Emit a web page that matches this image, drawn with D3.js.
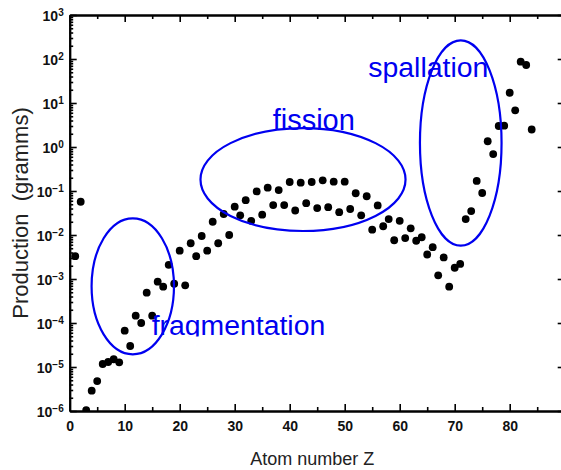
<!DOCTYPE html>
<html>
<head>
<meta charset="utf-8">
<script src="https://cdnjs.cloudflare.com/ajax/libs/d3/7.8.5/d3.min.js"></script>
<style>
  body { margin: 0; background: #fff; }
  svg { display: block; }
  .axis path, .axis line { stroke: #000; }
  .axis path { stroke-width: 2; }
  .axis line { stroke-width: 1.6; }
  .ticklabel { font-family: "Liberation Sans Narrow", "Arial Narrow", "Liberation Sans", Arial, sans-serif; font-size: 14px; font-weight: bold; fill: #111; }
</style>
</head>
<body>
<div id="chart"></div>
<script>
// atomic number Z and production (grams)
var atomNumbers = [1, 2, 3, 4, 5, 6, 7, 8, 9, 10, 11, 12, 13, 14, 15, 16, 17, 18, 19, 20,
    21, 22, 23, 24, 25, 26, 27, 28, 29, 30, 31, 32, 33, 34, 35, 36, 37, 38, 39, 40,
    41, 42, 43, 44, 45, 46, 47, 48, 49, 50, 51, 52, 53, 54, 55, 56, 57, 58, 59, 60,
    61, 62, 63, 64, 65, 66, 67, 68, 69, 70, 71, 72, 73, 74, 75, 76, 77, 78, 79, 80,
    81, 82, 83, 84];

var production = [3.3e-3, 5.7e-2, 1.05e-6, 2.9e-6, 4.8e-6, 1.17e-5, 1.3e-5, 1.5e-5, 1.28e-5, 6.7e-5,
    3.0e-5, 1.47e-4, 1.0e-4, 4.9e-4, 1.47e-4, 8.7e-4, 6.7e-4, 2.1e-3, 7.8e-4, 4.4e-3,
    7.2e-4, 6.5e-3, 3.3e-3, 9.5e-3, 4.4e-3, 2.0e-2, 6.5e-3, 3.0e-2, 1.0e-2, 4.4e-2,
    2.8e-2, 6.2e-2, 2.1e-2, 9.8e-2, 2.9e-2, 0.119, 4.8e-2, 0.105, 4.8e-2, 0.160,
    3.6e-2, 0.155, 5.3e-2, 0.160, 4.1e-2, 0.175, 4.3e-2, 0.163, 3.3e-2, 0.163,
    3.9e-2, 8.9e-2, 2.8e-2, 7.6e-2, 1.32e-2, 4.7e-2, 1.58e-2, 2.3e-2, 7.6e-3, 2.1e-2,
    8.5e-3, 1.42e-2, 7.4e-3, 8.9e-3, 3.6e-3, 5.3e-3, 1.21e-3, 3.1e-3, 6.7e-4, 1.8e-3,
    2.2e-3, 2.3e-2, 3.5e-2, 0.169, 9.0e-2, 1.35, 0.69, 3.0, 3.05, 17.1,
    6.8, 87, 73, 2.5];

var xTicks = [0, 10, 20, 30, 40, 50, 60, 70, 80];
var xMinorTicks = [5, 15, 25, 35, 45, 55, 65, 75, 85];
var yExponents = [-6, -5, -4, -3, -2, -1, 0, 1, 2, 3];

// process regions: centre (Z, log10 grams) and half-widths (Z, decades)
var regionNames = ["fragmentation", "fission", "spallation"];
var regionCentres = [[11.47, -3.166], [42.42, -0.739], [71.1, 0.091]];
var regionRadii = [[7.49, 1.545], [18.64, 1.17], [7.42, 2.334]];
var regionLabelAt = [[14.9, -4.284], [36.9, 0.386], [54.3, 1.598]];

var data = atomNumbers.map(function (z, i) { return [z, production[i]]; });

let width = 561, height = 470;

let x = d3.scaleLinear()
    .domain([0, 90])
    .range([69.7, 564.7]);

let y = d3.scaleLog()
    .domain([1e-6, 1e3])
    .range([411, 15]);

let chart = d3.select('#chart')
    .append('svg')
    .attr('width', width)
    .attr('height', height);

chart.append('defs').append('clipPath')
    .attr('id', 'plotclip')
    .append('rect')
    .attr('x', x(0)).attr('y', y(1e3))
    .attr('width', x(90) - x(0)).attr('height', y(1e-6) - y(1e3));

// minor log ticks (2..9 in each decade)
var yMinor = [];
yExponents.slice(0, -1).forEach(function (e) {
    for (var m = 2; m <= 9; m++) yMinor.push(m * Math.pow(10, e));
});
var yMajor = yExponents.map(function (e) { return Math.pow(10, e); });

// bottom axis
chart.append('g')
    .attr('class', 'axis')
    .attr('transform', 'translate(0,' + y(1e-6) + ')')
    .call(d3.axisBottom(x).tickValues(xMinorTicks).tickSize(-4).tickSizeOuter(0).tickFormat(''));

let xAxis = chart.append('g')
    .attr('class', 'axis')
    .attr('transform', 'translate(0,' + y(1e-6) + ')')
    .call(d3.axisBottom(x).tickValues(xTicks).tickSize(-7).tickSizeOuter(0).tickPadding(10));
xAxis.selectAll('text')
    .attr('class', 'ticklabel')
    .attr('font-family', null).attr('font-size', null);

// top axis
chart.append('g')
    .attr('class', 'axis')
    .attr('transform', 'translate(0,' + y(1e3) + ')')
    .call(d3.axisTop(x).tickValues(xMinorTicks).tickSize(-4).tickSizeOuter(0).tickFormat(''));
chart.append('g')
    .attr('class', 'axis')
    .attr('transform', 'translate(0,' + y(1e3) + ')')
    .call(d3.axisTop(x).tickValues(xTicks).tickSize(-7).tickSizeOuter(0).tickFormat(''));

// left axis
chart.append('g')
    .attr('class', 'axis')
    .attr('transform', 'translate(' + x(0) + ',0)')
    .call(d3.axisLeft(y).tickValues(yMinor).tickSize(-3.5).tickSizeOuter(0).tickFormat(''));
let yAxis = chart.append('g')
    .attr('class', 'axis')
    .attr('transform', 'translate(' + x(0) + ',0)')
    .call(d3.axisLeft(y).tickValues(yMajor).tickSize(-7).tickSizeOuter(0).tickFormat(''));

yAxis.selectAll('.tick').each(function (d, i) {
    let t = d3.select(this).append('text')
        .attr('class', 'ticklabel')
        .attr('x', -6)
        .attr('dy', '0.4em')
        .attr('text-anchor', 'end');
    t.append('tspan').text('10');
    t.append('tspan')
        .attr('dy', '-0.55em')
        .attr('font-size', '10px')
        .text(String(yExponents[i]).replace('-', '\u2212'));
});

// right axis
chart.append('g')
    .attr('class', 'axis')
    .attr('transform', 'translate(' + x(90) + ',0)')
    .call(d3.axisRight(y).tickValues(yMinor).tickSize(-3.5).tickSizeOuter(0).tickFormat(''));
chart.append('g')
    .attr('class', 'axis')
    .attr('transform', 'translate(' + x(90) + ',0)')
    .call(d3.axisRight(y).tickValues(yMajor).tickSize(-7).tickSizeOuter(0).tickFormat(''));

// axis titles
chart.append('text')
    .attr('x', (x(0) + x(90)) / 2 - 5)
    .attr('y', 465)
    .attr('text-anchor', 'middle')
    .attr('font-family', '"Liberation Sans", Arial, sans-serif')
    .attr('font-size', 18)
    .attr('fill', '#222')
    .text('Atom number Z');

chart.append('text')
    .attr('transform', 'translate(28,' + 213 + ') rotate(-90)')
    .attr('text-anchor', 'middle')
    .attr('font-family', '"Liberation Sans", Arial, sans-serif')
    .attr('font-size', 22)
    .attr('fill', '#222')
    .attr('xml:space', 'preserve')
    .text('Production  (gramms)');

// the points
chart.append('g')
    .attr('clip-path', 'url(#plotclip)')
    .selectAll('circle')
    .data(data)
    .enter().append('circle')
    .attr('cx', function (d) { return x(d[0]); })
    .attr('cy', function (d) { return y(d[1]); })
    .attr('r', 3.9)
    .attr('fill', '#000');

// regions
let regions = chart.append('g');
regionNames.forEach(function (name, i) {
    var c = regionCentres[i], r = regionRadii[i];
    var cx = x(c[0]), cy = y(Math.pow(10, c[1]));
    regions.append('ellipse')
        .attr('cx', cx)
        .attr('cy', cy)
        .attr('rx', x(c[0] + r[0]) - cx)
        .attr('ry', y(Math.pow(10, c[1] - r[1])) - cy)
        .attr('fill', 'none')
        .attr('stroke', '#0000f0')
        .attr('stroke-width', 2.2);
});

// fragmentation label is cut at its baseline in the original
chart.append('defs').append('clipPath')
    .attr('id', 'labelclip')
    .append('rect')
    .attr('x', 0).attr('y', 0)
    .attr('width', width).attr('height', y(Math.pow(10, regionLabelAt[0][1])) + 1);

regionNames.forEach(function (name, i) {
    var p = regionLabelAt[i];
    chart.append('text')
        .attr('x', x(p[0]))
        .attr('y', y(Math.pow(10, p[1])))
        .attr('font-family', '"Liberation Sans", Arial, sans-serif')
        .attr('font-size', i == 1 ? 29 : 28.4)
        .attr('fill', '#0000f0')
        .attr('clip-path', i == 0 ? 'url(#labelclip)' : null)
        .text(name);
});
</script>
</body>
</html>
